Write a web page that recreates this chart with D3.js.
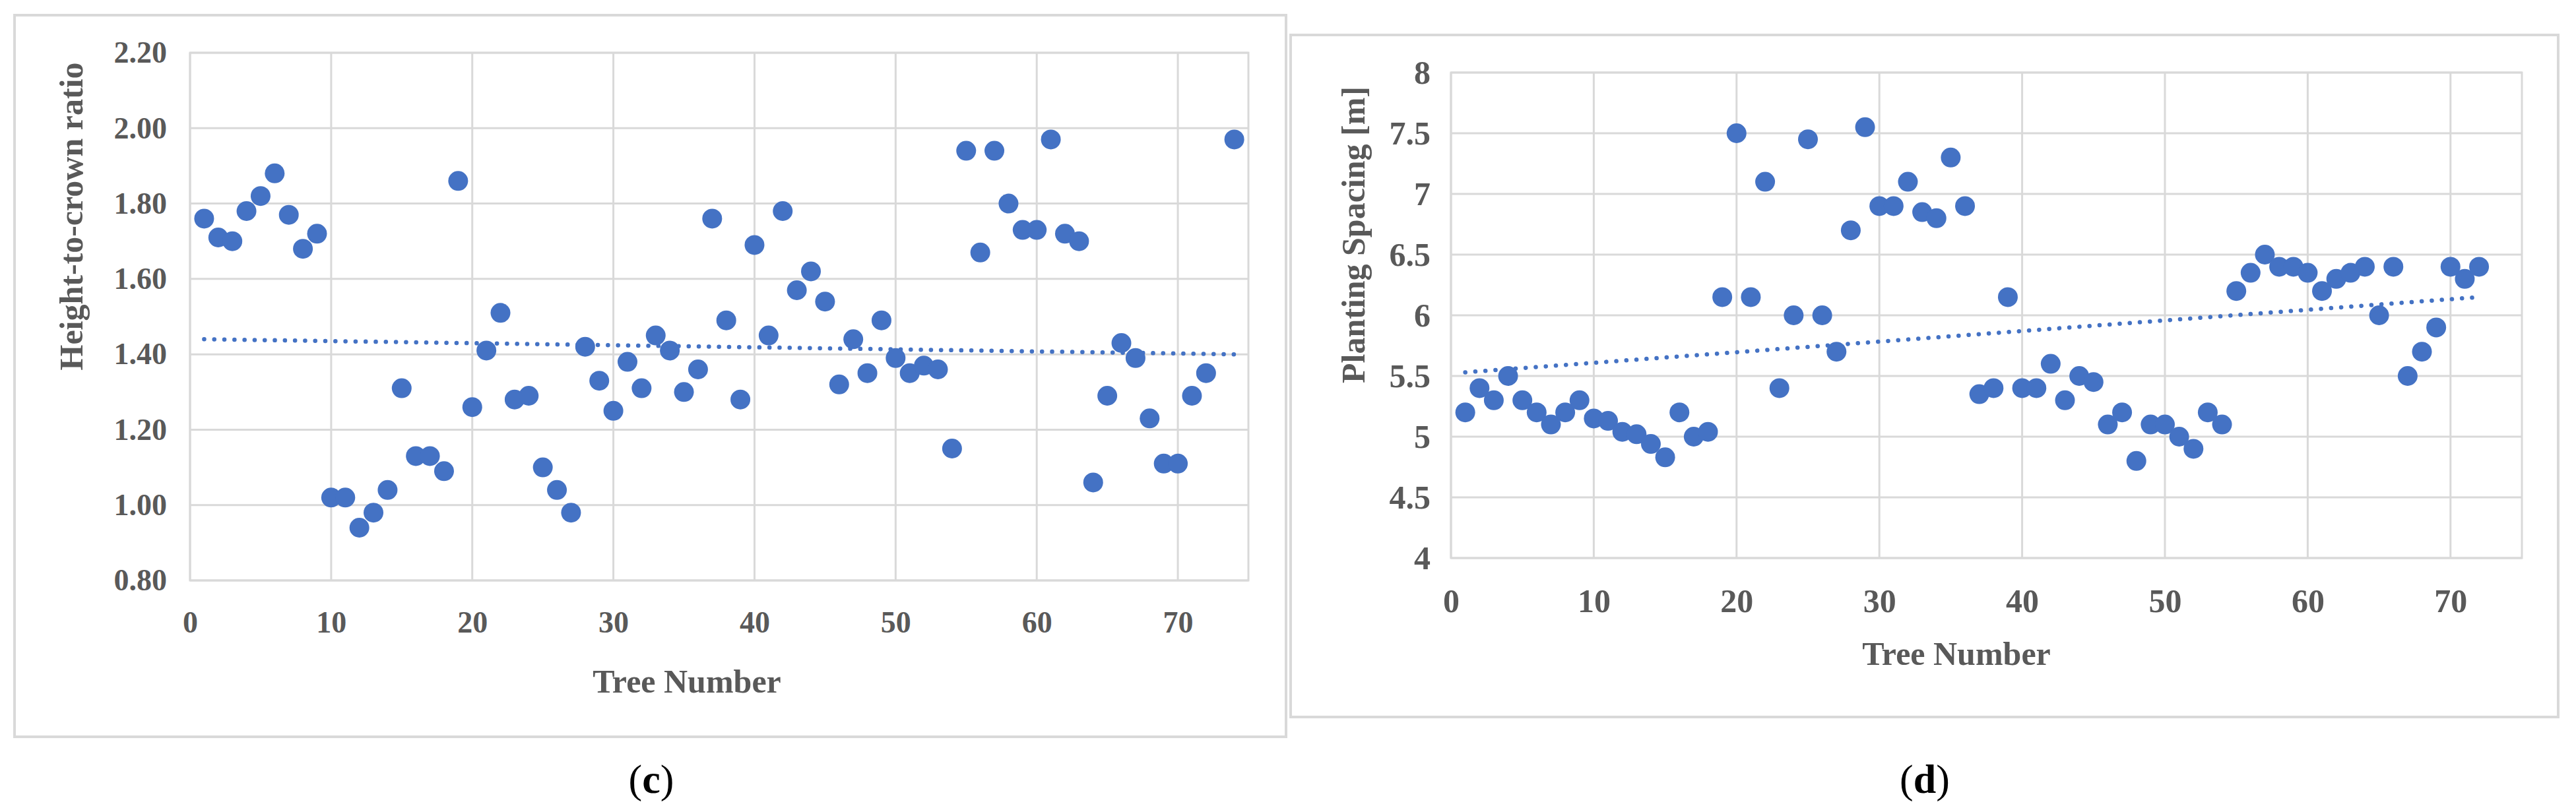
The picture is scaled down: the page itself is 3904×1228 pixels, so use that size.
<!DOCTYPE html>
<html>
<head>
<meta charset="utf-8">
<script src="https://cdn.jsdelivr.net/npm/d3@7"></script>
<style>
  html, body { margin: 0; padding: 0; background: #fff; }
  svg text { font-family: "Liberation Serif", "Times New Roman", serif; }
</style>
</head>
<body>
<svg id="chart" width="3904" height="1228"></svg>
<script>
// ---- data ----
// panel (c): height-to-crown ratio per tree (tree 73 is not in the plot)
var treesC = [1, 2, 3, 4, 5, 6, 7, 8, 9, 10, 11, 12, 13, 14, 15, 16, 17, 18, 19, 20,
  21, 22, 23, 24, 25, 26, 27, 28, 29, 30, 31, 32, 33, 34, 35, 36, 37, 38, 39, 40,
  41, 42, 43, 44, 45, 46, 47, 48, 49, 50, 51, 52, 53, 54, 55, 56, 57, 58, 59, 60,
  61, 62, 63, 64, 65, 66, 67, 68, 69, 70, 71, 72, 74];
var ratioC = [1.76, 1.71, 1.70, 1.78, 1.82, 1.88, 1.77, 1.68, 1.72, 1.02,
  1.02, 0.94, 0.98, 1.04, 1.31, 1.13, 1.13, 1.09, 1.86, 1.26,
  1.41, 1.51, 1.28, 1.29, 1.10, 1.04, 0.98, 1.42, 1.33, 1.25,
  1.38, 1.31, 1.45, 1.41, 1.30, 1.36, 1.76, 1.49, 1.28, 1.69,
  1.45, 1.78, 1.57, 1.62, 1.54, 1.32, 1.44, 1.35, 1.49, 1.39,
  1.35, 1.37, 1.36, 1.15, 1.94, 1.67, 1.94, 1.80, 1.73, 1.73,
  1.97, 1.72, 1.70, 1.06, 1.29, 1.43, 1.39, 1.23, 1.11, 1.11,
  1.29, 1.35, 1.97];
// linear trendline as drawn in the figure (start / end)
var trendTreesC = [1, 74];
var trendC = [1.44, 1.40];

// panel (d): planting spacing per tree [m]
var treesD = [1, 2, 3, 4, 5, 6, 7, 8, 9, 10, 11, 12, 13, 14, 15, 16, 17, 18, 19, 20,
  21, 22, 23, 24, 25, 26, 27, 28, 29, 30, 31, 32, 33, 34, 35, 36, 37, 38, 39, 40,
  41, 42, 43, 44, 45, 46, 47, 48, 49, 50, 51, 52, 53, 54, 55, 56, 57, 58, 59, 60,
  61, 62, 63, 64, 65, 66, 67, 68, 69, 70, 71, 72];
var spacingD = [5.2, 5.4, 5.3, 5.5, 5.3, 5.2, 5.1, 5.2, 5.3, 5.15,
  5.13, 5.04, 5.02, 4.94, 4.83, 5.2, 5.0, 5.04, 6.15, 7.5,
  6.15, 7.1, 5.4, 6.0, 7.45, 6.0, 5.7, 6.7, 7.55, 6.9,
  6.9, 7.1, 6.85, 6.8, 7.3, 6.9, 5.35, 5.4, 6.15, 5.4,
  5.4, 5.6, 5.3, 5.5, 5.45, 5.1, 5.2, 4.8, 5.1, 5.1,
  5.0, 4.9, 5.2, 5.1, 6.2, 6.35, 6.5, 6.4, 6.4, 6.35,
  6.2, 6.3, 6.35, 6.4, 6.0, 6.4, 5.5, 5.7, 5.9, 6.4,
  6.3, 6.4];
var trendTreesD = [1, 72];
var trendD = [5.53, 6.15];

// tick labels
var xTicks = [0, 10, 20, 30, 40, 50, 60, 70];
var ratioTicks = [0.8, 1.0, 1.2, 1.4, 1.6, 1.8, 2.0, 2.2];
var spacingTicks = [4, 4.5, 5, 5.5, 6, 6.5, 7, 7.5, 8];

var blue = '#4472C4';
var grid = '#d9d9d9';
var textGray = '#595959';

var svg = d3.select('#chart');

function drawPanel(o) {
  var g = svg.append('g');

  // outer frame of the excel chart
  g.append('rect')
    .attr('x', o.frame[0]).attr('y', o.frame[1])
    .attr('width', o.frame[2] - o.frame[0]).attr('height', o.frame[3] - o.frame[1])
    .attr('fill', 'none').attr('stroke', grid).attr('stroke-width', 4);

  var x = d3.scaleLinear().domain([0, 75]).range([o.plot[0], o.plot[2]]);
  var y = d3.scaleLinear().domain(o.yDomain).range([o.plot[3], o.plot[1]]);

  // gridlines
  g.append('g').selectAll('line').data(xTicks).enter().append('line')
    .attr('x1', function(d) { return x(d); }).attr('x2', function(d) { return x(d); })
    .attr('y1', o.plot[1]).attr('y2', o.plot[3])
    .attr('stroke', grid).attr('stroke-width', 3);
  g.append('g').selectAll('line').data(o.yTicks).enter().append('line')
    .attr('x1', o.plot[0]).attr('x2', o.plot[2])
    .attr('y1', function(d) { return y(d); }).attr('y2', function(d) { return y(d); })
    .attr('stroke', grid).attr('stroke-width', 3);
  g.append('rect')
    .attr('x', o.plot[0]).attr('y', o.plot[1])
    .attr('width', o.plot[2] - o.plot[0]).attr('height', o.plot[3] - o.plot[1])
    .attr('fill', 'none').attr('stroke', grid).attr('stroke-width', 3);

  // axes (labels only)
  var yAxis = g.append('g')
    .attr('transform', 'translate(' + o.plot[0] + ',0)')
    .call(d3.axisLeft(y).tickValues(o.yTicks).tickSize(0).tickPadding(o.yPad).tickFormat(o.yFormat));
  var xAxis = g.append('g')
    .attr('transform', 'translate(0,' + o.plot[3] + ')')
    .call(d3.axisBottom(x).tickValues(xTicks).tickSize(0)
      .tickPadding(o.xBase - o.plot[3] - 0.71 * o.tickFont));
  [yAxis, xAxis].forEach(function(a) {
    a.select('.domain').remove();
    a.selectAll('text')
      .attr('font-family', '"Liberation Serif", "Times New Roman", serif')
      .attr('font-size', o.tickFont).attr('font-weight', 'bold').attr('fill', textGray);
  });

  // dotted trendline
  g.append('path')
    .datum(o.trendXs)
    .attr('d', d3.line()
      .x(function(d) { return x(d); })
      .y(function(d, i) { return y(o.trendYs[i]); }))
    .attr('fill', 'none').attr('stroke', blue).attr('stroke-width', 6.5)
    .attr('stroke-linecap', 'round').attr('stroke-dasharray', '0.1 15.2');

  // points
  g.append('g').selectAll('circle').data(o.xs).enter().append('circle')
    .attr('cx', function(d) { return x(d); })
    .attr('cy', function(d, i) { return y(o.ys[i]); })
    .attr('r', 15)
    .attr('fill', blue);

  // axis titles
  g.append('text')
    .attr('transform', 'translate(' + o.yTitle[0] + ',' + o.yTitle[1] + ') rotate(-90)')
    .attr('text-anchor', 'middle').attr('dy', '0.35em')
    .attr('font-size', 50).attr('font-weight', 'bold').attr('fill', textGray)
    .text(o.yLabel);
  g.append('text')
    .attr('x', o.xTitle[0]).attr('y', o.xTitle[1])
    .attr('text-anchor', 'middle')
    .attr('font-size', 50).attr('font-weight', 'bold').attr('fill', textGray)
    .text('Tree Number');

  // panel letter
  var lab = g.append('text')
    .attr('x', o.letter[0]).attr('y', o.letter[1])
    .attr('text-anchor', 'middle').attr('font-size', 62).attr('fill', '#000');
  lab.append('tspan').text('(');
  lab.append('tspan').attr('font-weight', 'bold').text(o.letterText);
  lab.append('tspan').text(')');
}

drawPanel({
  xs: treesC, ys: ratioC, trendXs: trendTreesC, trendYs: trendC,
  frame: [22, 23, 1949, 1117],
  plot: [288, 80, 1892, 880],
  yDomain: [0.8, 2.2], yTicks: ratioTicks,
  yFormat: d3.format('.2f'), yPad: 35,
  tickFont: 46, xBase: 959,
  yLabel: 'Height-to-crown ratio', yTitle: [107, 328],
  xTitle: [1041, 1050],
  letter: [987, 1202], letterText: 'c'
});

drawPanel({
  xs: treesD, ys: spacingD, trendXs: trendTreesD, trendYs: trendD,
  frame: [1956, 53, 3877, 1087],
  plot: [2199, 110, 3822, 846],
  yDomain: [4, 8], yTicks: spacingTicks,
  yFormat: function(d) { return d; }, yPad: 31,
  tickFont: 50, xBase: 928,
  yLabel: 'Planting Spacing [m]', yTitle: [2050, 356],
  xTitle: [2965, 1008],
  letter: [2917, 1202], letterText: 'd'
});
</script>
</body>
</html>
